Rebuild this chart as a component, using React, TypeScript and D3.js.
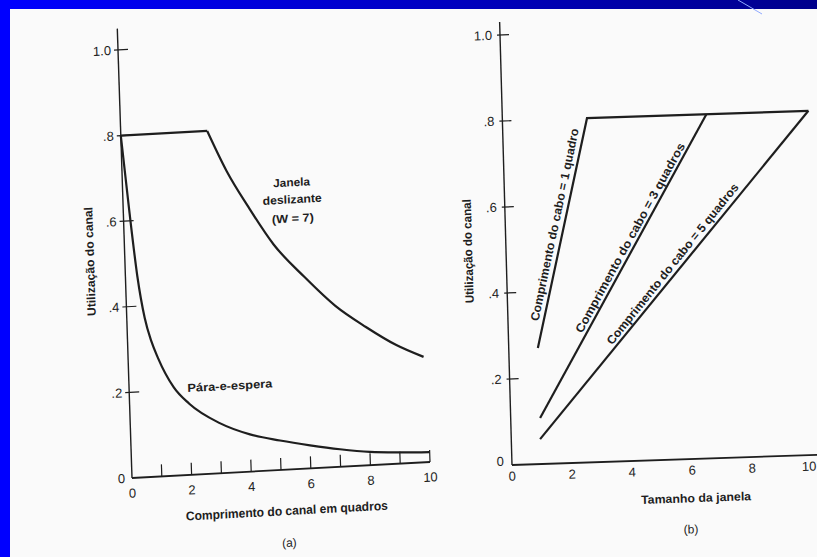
import React from 'react';
import * as d3 from 'd3';

// Panel (a): channel utilisation vs channel length in frames
const channelTicks = [0, 2, 4, 6, 8, 10];
const utilTicks = [0, 0.2, 0.4, 0.6, 0.8, 1.0];
const utilTickLabels = ['0', '.2', '.4', '.6', '.8', '1.0'];

const slidingWindow: [number, number][] = [
  [0, 0.8], [2.9, 0.8], [3.5, 0.705], [4.2, 0.617], [5, 0.527], [6, 0.447],
  [7, 0.376], [8, 0.323], [9, 0.277], [9.9, 0.246],
];

const stopAndWait: [number, number][] = [
  [0, 0.8], [0.2, 0.625], [0.4, 0.47], [0.6, 0.372], [0.8, 0.316], [1, 0.277],
  [1.5, 0.206], [2, 0.166], [3, 0.117], [4, 0.087], [5, 0.069], [6, 0.054],
  [7, 0.041], [8, 0.031], [9, 0.026], [10, 0.023],
];

// Panel (b): channel utilisation vs window size
const windowTicks = [0, 2, 4, 6, 8, 10];
const cable1: [number, number][] = [[0.97, 0.27], [2.82, 0.8], [10.2, 0.8]];
const cable3: [number, number][] = [[0.98, 0.107], [6.8, 0.8]];
const cable5: [number, number][] = [[0.96, 0.058], [10.2, 0.8]];

const cableLabels = [
  { text: 'Comprimento do cabo = 1 quadro', x: 1.64, y: 0.555, angle: -76.5, len: 196 },
  { text: 'Comprimento do cabo = 3 quadros', x: 4.14, y: 0.519, angle: -59.5, len: 214 },
  { text: 'Comprimento do cabo = 5 quadros', x: 5.53, y: 0.455, angle: -49.5, len: 202 },
];

// the scan is slightly skewed: each panel has its own origin and unit vectors (px)
const PANEL_A = { origin: [132, 478], ex: [29.8, -1.6], ey: [-14, -428] };
const PANEL_B = { origin: [512, 465], ex: [30, -1], ey: [-12, -430] };

const INK = '#1e1e1e';
const SANS = '"Liberation Sans", Arial, Helvetica, sans-serif';

function frame(p: { origin: number[]; ex: number[]; ey: number[] }) {
  const x = d3.scaleLinear().domain([0, 10]).range([0, 10 * p.ex[0]]);
  const y = d3.scaleLinear().domain([0, 1]).range([-p.ey[1], 0]);
  const m = `matrix(1,${p.ex[1] / p.ex[0]},${p.ey[0] / p.ey[1]},1,${p.origin[0] + p.ey[0]},${p.origin[1] + p.ey[1]})`;
  return { x, y, m };
}

function PanelA() {
  const { x, y, m } = frame(PANEL_A);
  const lin = d3.line<[number, number]>().x(d => x(d[0])).y(d => y(d[1]));
  const smooth = d3.line<[number, number]>().x(d => x(d[0])).y(d => y(d[1])).curve(d3.curveMonotoneX);

  return (
    <g transform={m} fontFamily={SANS} fill={INK}>
      <line x1={x(0)} y1={y(0)} x2={x(0)} y2={y(1.05)} stroke={INK} strokeWidth={1.4} />
      <line x1={x(0)} y1={y(0)} x2={x(10)} y2={y(0)} stroke={INK} strokeWidth={1.8} />
      {utilTicks.filter(v => v > 0).map(v => (
        <line key={v} x1={x(0) - 4} x2={x(0) + 10} y1={y(v)} y2={y(v)} stroke={INK} strokeWidth={1.2} />
      ))}
      {utilTicks.map((v, i) => (
        <text key={v} x={x(0) - 7} y={y(v)} dy="0.35em" textAnchor="end" fontSize={13}>{utilTickLabels[i]}</text>
      ))}
      {d3.range(1, 11).map(v => (
        <line key={v} x1={x(v)} x2={x(v)} y1={y(0)} y2={y(0) - 12} stroke={INK} strokeWidth={1.2} />
      ))}
      {channelTicks.map(v => (
        <text key={v} x={x(v)} y={y(0) + 15} dy="0.35em" textAnchor="middle" fontSize={13}>{v}</text>
      ))}

      <path d={lin(slidingWindow.slice(0, 2)) ?? ''} fill="none" stroke={INK} strokeWidth={2.2} />
      <path d={smooth(slidingWindow.slice(1)) ?? ''} fill="none" stroke={INK} strokeWidth={2.2} />
      <path d={smooth(stopAndWait) ?? ''} fill="none" stroke={INK} strokeWidth={2.2} />

      <g fontSize={11.5} fontWeight="bold" textAnchor="middle" lengthAdjust="spacingAndGlyphs">
        <text x={x(5.67)} y={y(0.63) - 17} dy="0.35em" textLength={37} lengthAdjust="spacingAndGlyphs">Janela</text>
        <text x={x(5.67)} y={y(0.63)} dy="0.35em" textLength={59} lengthAdjust="spacingAndGlyphs">deslizante</text>
        <text x={x(5.67)} y={y(0.63) + 19} dy="0.35em" textLength={42} lengthAdjust="spacingAndGlyphs">(W = 7)</text>
        <text x={x(3.38)} y={y(0.203)} dy="0.35em" textLength={85} lengthAdjust="spacingAndGlyphs">Pára-e-espera</text>
      </g>

      <text transform={`translate(${x(0) - 35},${y(0.51)}) rotate(-90)`} textAnchor="middle" dy="0.35em"
        fontSize={12} fontWeight="bold" textLength={109} lengthAdjust="spacingAndGlyphs">Utilização do canal</text>
      <text x={x(5.15)} y={y(0) + 41} dy="0.35em" textAnchor="middle" fontSize={12.5} fontWeight="bold"
        textLength={202} lengthAdjust="spacingAndGlyphs">Comprimento do canal em quadros</text>
      <text x={x(5.2)} y={y(0) + 73} dy="0.35em" textAnchor="middle" fontSize={12}>(a)</text>
    </g>
  );
}

function PanelB() {
  const { x, y, m } = frame(PANEL_B);
  const lin = d3.line<[number, number]>().x(d => x(d[0])).y(d => y(d[1]));

  return (
    <g transform={m} fontFamily={SANS} fill={INK}>
      <line x1={x(0)} y1={y(0)} x2={x(0)} y2={y(1.03)} stroke={INK} strokeWidth={1.4} />
      <line x1={x(0)} y1={y(0)} x2={x(10.3)} y2={y(0)} stroke={INK} strokeWidth={1.8} />
      {utilTicks.filter(v => v > 0).map(v => (
        <line key={v} x1={x(0) - 3} x2={x(0) + 9} y1={y(v)} y2={y(v)} stroke={INK} strokeWidth={1.2} />
      ))}
      {utilTicks.map((v, i) => (
        <text key={v} x={x(0) - 8} y={y(v) - (v === 0 ? 4 : 0)} dy="0.35em" textAnchor="end" fontSize={13}>
          {utilTickLabels[i]}
        </text>
      ))}
      {windowTicks.map(v => (
        <text key={v} x={v === 10 ? x(v) + 4 : x(v)} y={y(0) + 11} dy="0.35em"
          textAnchor={v === 10 ? 'end' : 'middle'} fontSize={13}>{v}</text>
      ))}

      {[cable1, cable3, cable5].map((s, i) => (
        <path key={i} d={lin(s) ?? ''} fill="none" stroke={INK} strokeWidth={2.2} />
      ))}

      {cableLabels.map(l => (
        <text key={l.text} transform={`translate(${x(l.x)},${y(l.y)}) rotate(${l.angle})`} textAnchor="middle"
          dy="0.35em" fontSize={12} fontWeight="bold" textLength={l.len} lengthAdjust="spacingAndGlyphs">{l.text}</text>
      ))}

      <text transform={`translate(${x(0) - 38},${y(0.5)}) rotate(-90)`} textAnchor="middle" dy="0.35em"
        fontSize={12} fontWeight="bold" textLength={104} lengthAdjust="spacingAndGlyphs">Utilização do canal</text>
      <text x={x(6.1)} y={y(0) + 39} dy="0.35em" textAnchor="middle" fontSize={12} fontWeight="bold"
        textLength={110} lengthAdjust="spacingAndGlyphs">Tamanho da janela</text>
      <text x={x(5.9)} y={y(0) + 70} dy="0.35em" textAnchor="middle" fontSize={12}>(b)</text>
    </g>
  );
}

export default function App() {
  return (
    <svg width={817} height={557} style={{ position: 'absolute', left: 0, top: 0, display: 'block' }}>
      <defs>
        <linearGradient id="band" x1="0" x2="1" y1="0" y2="0">
          <stop offset="0" stopColor="#0000ff" />
          <stop offset="1" stopColor="#00008c" />
        </linearGradient>
      </defs>
      <rect x={0} y={0} width={817} height={557} fill="#fafafa" />
      <PanelA />
      <PanelB />
      <rect x={0} y={0} width={817} height={9} fill="url(#band)" />
      <rect x={0} y={0} width={10} height={557} fill="#0000ff" />
      <line x1={738} y1={0} x2={762} y2={14} stroke="#8fa8ff" strokeWidth={1} />
    </svg>
  );
}
